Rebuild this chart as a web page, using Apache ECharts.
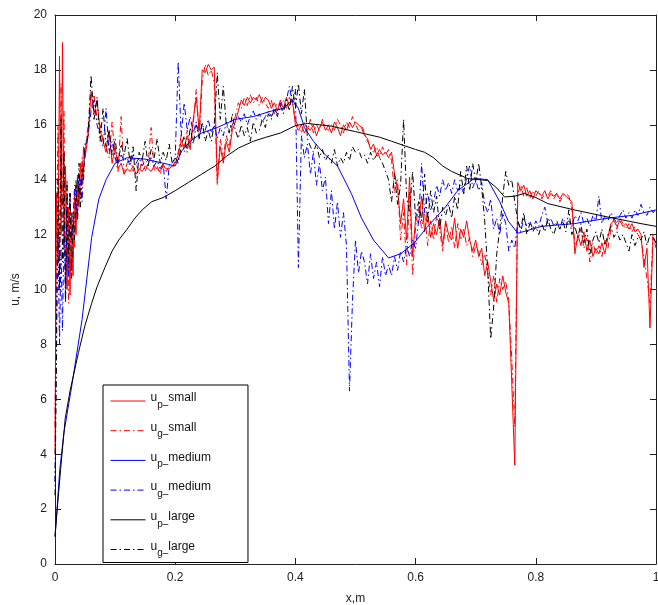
<!DOCTYPE html>
<html>
<head>
<meta charset="utf-8">
<script src="https://cdn.jsdelivr.net/npm/echarts@6/dist/echarts.min.js"></script>
<style>
  html, body { margin: 0; padding: 0; background: #fff; }
  #chart { width: 658px; height: 605px; }
</style>
</head>
<body>
<div id="chart"></div>
<script>
// sample positions shared by the noisy gas/particle traces
const xs = [
  0, 0.0025, 0.005, 0.0075, 0.01, 0.0125, 0.015, 0.0175, 0.02, 0.0225,
  0.025, 0.0275, 0.03, 0.0325, 0.035, 0.0375, 0.04, 0.0425, 0.045, 0.0475, 0.05,
  0.055, 0.06, 0.065, 0.07, 0.075, 0.08, 0.085, 0.09, 0.095, 0.1,
  0.105, 0.11, 0.115, 0.12, 0.125, 0.13, 0.135, 0.14, 0.145, 0.15,
  0.155, 0.16, 0.165, 0.17, 0.175, 0.18, 0.185, 0.19, 0.195, 0.2,
  0.205, 0.21, 0.215, 0.22, 0.225, 0.23, 0.235, 0.24, 0.245, 0.25,
  0.255, 0.26, 0.265, 0.27, 0.275, 0.28, 0.285, 0.29, 0.295, 0.3,
  0.305, 0.31, 0.315, 0.32, 0.325, 0.33, 0.335, 0.34, 0.345, 0.35,
  0.355, 0.36, 0.365, 0.37, 0.375, 0.38, 0.385, 0.39, 0.395, 0.4,
  0.405, 0.41, 0.415, 0.42, 0.425, 0.43, 0.435, 0.44, 0.445, 0.45,
  0.455, 0.46, 0.465, 0.47, 0.475, 0.48, 0.485, 0.49, 0.495, 0.5,
  0.505, 0.51, 0.515, 0.52, 0.525, 0.53, 0.535, 0.54, 0.545, 0.55,
  0.555, 0.56, 0.565, 0.57, 0.575, 0.58, 0.585, 0.59, 0.595, 0.6,
  0.605, 0.61, 0.615, 0.62, 0.625, 0.63, 0.635, 0.64, 0.645, 0.65,
  0.655, 0.66, 0.665, 0.67, 0.675, 0.68, 0.685, 0.69, 0.695, 0.7,
  0.705, 0.71, 0.715, 0.72, 0.725, 0.73, 0.735, 0.74, 0.745, 0.75,
  0.755, 0.76, 0.765, 0.77, 0.775, 0.78, 0.785, 0.79, 0.795, 0.8,
  0.805, 0.81, 0.815, 0.82, 0.825, 0.83, 0.835, 0.84, 0.845, 0.85,
  0.855, 0.86, 0.865, 0.87, 0.875, 0.88, 0.885, 0.89, 0.895, 0.9,
  0.905, 0.91, 0.915, 0.92, 0.925, 0.93, 0.935, 0.94, 0.945, 0.95,
  0.955, 0.96, 0.965, 0.97, 0.975, 0.98, 0.985, 0.99, 0.995, 1.0
];

const upSmall = [
  4.0, 13.5, 11.0, 18.5, 12.0, 19.0, 11.5, 14.5, 10.0, 13.0,
  9.8, 12.8, 10.5, 13.5, 12.0, 14.0, 13.0, 14.6, 13.8, 15.2, 14.8,
  15.6, 17.2, 16.4, 16.9, 15.8, 15.4, 15.0, 15.8, 14.6, 15.2,
  14.4, 14.6, 14.2, 14.4, 14.3, 14.5, 14.2, 14.4, 14.3, 14.5,
  14.4, 14.3, 14.5, 14.4, 14.3, 14.5, 14.4, 14.4, 14.5, 14.6,
  14.9, 15.4, 15.2, 15.6, 15.1, 16.2, 17.0, 15.8, 18.0, 17.9,
  18.2, 18.0, 18.1, 14.0, 15.2, 14.6, 15.4, 15.0, 15.8, 16.1,
  16.5, 16.9, 16.7, 17.0, 16.8, 17.0, 16.9, 17.1, 16.8, 17.0,
  16.9, 16.6, 16.8, 16.5, 16.9, 16.6, 17.0, 16.7, 16.9, 16.0,
  15.8, 16.0, 15.7, 15.9, 15.8, 16.0, 15.6, 15.9, 16.1, 15.8,
  16.0, 15.7, 16.1, 15.9, 15.6, 16.0, 15.8, 16.1, 15.9, 16.1,
  16.0, 15.9, 15.6, 15.5, 15.1, 15.3, 14.9, 15.1, 14.9, 15.0,
  14.8, 15.0, 14.2, 13.7, 12.4, 13.3, 11.8, 14.1, 11.2, 12.6,
  12.4, 13.4, 12.1, 12.8, 11.9, 12.4, 12.0, 12.6, 11.6, 12.5,
  12.0, 11.8, 12.6, 11.5, 12.2, 11.9, 12.5, 11.8, 11.4, 11.8,
  11.2, 11.5, 10.5, 11.0, 10.3, 9.6, 10.2, 9.8, 10.5, 9.9,
  9.5, 6.6, 3.6, 13.9, 13.6, 13.8, 13.4, 13.6, 13.3, 13.6,
  13.5, 13.4, 13.6, 13.3, 13.5, 13.4, 13.5, 13.3, 13.5, 13.4,
  13.3, 13.2, 11.3, 12.0, 11.6, 12.1, 11.4, 11.8, 11.2, 11.5,
  11.3, 11.7, 11.3, 11.9, 12.4, 12.5, 12.3, 12.5, 12.3, 12.4,
  12.2, 12.4, 12.1, 12.2, 12.0, 10.8, 11.5, 8.6, 11.9, 11.7
];

const ugSmall = [
  5.0, 12.0, 16.0, 10.5, 17.5, 13.0, 16.5, 10.2, 14.0, 9.5,
  13.5, 10.8, 12.5, 11.5, 13.8, 12.6, 14.2, 13.4, 14.8, 14.2, 15.0,
  16.0, 16.6, 17.1, 16.2, 16.0, 15.5, 15.2, 14.8, 16.1, 14.8,
  14.3, 16.3, 14.2, 14.6, 14.9, 14.3, 14.6, 14.2, 14.8, 14.3,
  14.6, 15.9, 14.3, 14.5, 14.2, 14.6, 14.3, 14.5, 14.4, 14.7,
  15.0, 15.6, 15.0, 15.8, 15.3, 16.0, 17.3, 15.5, 17.6, 18.2,
  17.8, 18.0, 17.5, 13.8, 15.5, 14.8, 15.6, 15.2, 16.0, 16.3,
  16.8, 16.6, 17.0, 16.7, 17.1, 16.8, 17.0, 16.7, 17.0, 16.8,
  16.6, 16.9, 16.4, 16.8, 16.7, 16.9, 16.6, 17.0, 16.8, 16.2,
  15.9, 15.7, 16.1, 15.8, 16.2, 15.7, 16.0, 15.8, 16.2, 15.9,
  15.8, 16.0, 15.8, 16.2, 16.0, 15.7, 16.1, 15.9, 16.3, 16.0,
  15.8, 16.0, 15.7, 15.4, 15.2, 15.0, 15.2, 14.8, 15.2, 14.9,
  15.1, 14.7, 13.5, 14.0, 11.8, 12.8, 10.9, 13.6, 10.5, 12.3,
  13.0, 12.2, 12.8, 11.6, 12.5, 11.8, 12.7, 12.2, 11.4, 12.4,
  11.7, 12.3, 11.5, 12.4, 11.8, 12.2, 11.6, 11.9, 11.2, 11.6,
  11.4, 10.9, 11.3, 10.6, 9.8, 10.5, 9.5, 10.4, 10.0, 10.3,
  9.6, 7.5, 5.0, 13.5, 13.8, 13.4, 13.7, 13.3, 13.6, 13.4,
  13.6, 13.3, 13.5, 13.4, 13.6, 13.3, 13.5, 13.2, 13.4, 13.5,
  13.4, 13.0, 11.6, 11.8, 12.2, 11.5, 11.9, 11.0, 11.7, 11.3,
  11.6, 11.2, 11.8, 11.5, 12.2, 12.6, 12.2, 12.6, 12.4, 12.2,
  12.4, 12.1, 12.3, 12.0, 11.8, 11.2, 10.4, 9.5, 12.0, 11.5
];

const ugMedium = [
  3.0, 9.0, 12.0, 8.0, 11.5, 8.5, 12.5, 9.5, 13.0, 10.5,
  13.5, 11.8, 12.5, 13.8, 12.8, 14.2, 13.5, 14.0, 13.2, 14.5, 15.0,
  15.6, 16.5, 16.9, 16.0, 15.6, 15.2, 16.6, 15.0, 15.4, 14.8,
  14.6, 14.9, 14.7, 14.8, 14.5, 14.9, 14.6, 14.8, 14.5, 14.7,
  14.6, 14.8, 14.5, 14.7, 14.4, 14.6, 13.3, 14.5, 14.6, 14.8,
  18.3, 15.6, 16.8, 15.8, 16.3, 15.7, 16.1, 15.6, 16.0, 15.8,
  16.2, 15.7, 16.0, 15.5, 15.9, 15.6, 16.1, 15.8, 16.0, 16.2,
  16.3, 16.1, 16.4, 16.0, 16.3, 16.5, 16.2, 16.4, 16.1, 16.3,
  16.5, 16.3, 16.6, 16.4, 16.8, 16.5, 16.9, 17.4, 16.8, 17.3,
  10.8, 15.6, 14.8, 15.3, 14.2, 15.0, 13.8, 14.6, 13.6, 14.1,
  12.4, 13.6, 12.2, 13.2, 11.9, 12.8, 11.6, 6.3, 9.6, 11.8,
  10.6, 11.4, 11.0, 10.2, 11.3, 10.4, 11.0, 10.1, 11.2, 10.5,
  10.9, 10.5, 11.2, 10.7, 11.4, 11.0, 11.6, 11.2, 11.8, 11.5,
  12.5, 14.6, 12.8, 13.5, 12.9, 13.2, 13.8, 13.4, 14.0, 13.6,
  13.9, 13.5, 14.0, 13.6, 13.8, 13.5, 14.1, 14.5, 13.7, 14.0,
  13.6, 13.9, 13.1, 12.8, 13.3, 12.2, 12.6, 12.0, 12.8, 12.4,
  11.4, 11.8, 11.5, 12.5, 12.1, 12.6, 12.3, 12.5, 12.2, 12.5,
  12.3, 12.7, 13.0, 12.4, 12.6, 12.3, 12.5, 12.2, 12.6, 12.4,
  12.5, 12.3, 12.7, 12.5, 12.8, 12.4, 12.6, 12.3, 12.7, 12.5,
  13.4, 12.4, 12.7, 12.5, 12.8, 12.6, 12.4, 12.7, 12.9, 12.6,
  12.8, 12.6, 12.9, 12.7, 13.1, 12.8, 12.7, 13.0, 12.8, 12.9
];

const ugLarge = [
  2.5, 7.5, 14.0, 10.0, 16.2, 11.0, 15.0, 9.6, 13.8, 11.0,
  13.5, 10.4, 12.8, 11.8, 14.0, 12.5, 14.6, 13.0, 14.4, 14.0, 15.3,
  15.6, 17.8, 16.2, 17.0, 15.4, 16.6, 15.2, 15.8, 14.9, 15.5,
  14.6, 15.3, 14.9, 15.5, 14.6, 15.2, 13.6, 15.0, 14.7, 15.4,
  14.5, 15.1, 14.8, 15.5, 14.6, 15.0, 14.7, 15.3, 14.6, 14.8,
  14.6, 15.2, 15.6, 15.0, 15.9, 15.3, 16.0, 15.5, 16.1, 15.4,
  15.8, 15.4, 16.0, 17.9, 16.2, 17.4, 16.0, 15.7, 16.4, 15.8,
  15.5, 16.0, 15.6, 15.9, 15.4, 16.1, 15.7, 15.8, 16.2, 15.9,
  16.4, 16.2, 16.6, 16.3, 16.7, 16.4, 16.9, 16.5, 17.4, 16.6,
  17.5, 16.4, 17.3, 15.5, 15.2, 15.0, 15.3, 14.8, 15.1, 14.7,
  14.9, 14.6, 15.1, 14.5, 14.8, 14.6, 15.0, 14.7, 15.2, 15.0,
  15.1, 14.8, 14.9, 14.6, 15.0, 14.7, 14.9, 14.8, 14.6, 14.3,
  14.0, 13.2, 14.2, 13.1, 13.8, 16.2, 13.4, 12.8, 14.3, 12.6,
  13.2, 12.5, 14.2, 12.4, 13.6, 12.8, 13.4, 12.2, 13.0, 12.7,
  13.1, 12.6, 13.4, 12.9, 14.3, 13.5, 14.5, 13.6, 14.6, 13.9,
  14.6, 13.7, 12.5, 10.7, 8.2, 9.4, 11.3, 12.2, 13.4, 14.3,
  13.8, 14.0, 13.2, 12.5, 12.2, 12.8, 12.0, 12.4, 12.1, 12.3,
  12.0, 12.4, 12.1, 12.6, 12.2, 12.0, 12.4, 12.2, 12.5, 12.1,
  12.9, 12.0, 12.3, 11.9, 12.4, 11.7, 12.2, 11.3, 11.8, 12.1,
  11.7, 12.2, 11.6, 12.0, 12.3, 11.9, 12.1, 11.8, 12.0, 11.7,
  11.4, 12.0, 11.6, 11.9, 11.8, 12.1, 11.6, 12.0, 11.9, 11.7
];

// smooth particle curves, own sample points
const upMediumX = [0, 0.004, 0.008, 0.015, 0.028, 0.045, 0.061, 0.073, 0.085, 0.1,
  0.12, 0.15, 0.18, 0.2, 0.211, 0.225, 0.244, 0.27, 0.3, 0.33,
  0.36, 0.38, 0.395, 0.405, 0.415, 0.43, 0.45, 0.47, 0.493, 0.51,
  0.53, 0.555, 0.575, 0.598, 0.62, 0.648, 0.67, 0.698, 0.72, 0.74,
  0.754, 0.77, 0.81, 0.864, 0.92, 0.96, 1.0];
const upMedium = [1.0, 2.2, 3.45, 4.8, 6.5, 8.9, 11.9, 13.3, 14.0, 14.6,
  14.8, 14.75, 14.6, 14.5, 15.05, 15.4, 15.7, 15.9, 16.2, 16.3,
  16.5, 16.6, 16.9, 16.6, 15.9, 15.4, 14.9, 14.5, 13.5, 12.6,
  11.8, 11.15, 11.3, 11.7, 12.3, 12.96, 13.6, 14.05, 14.0, 13.2,
  12.5, 12.05, 12.3, 12.4, 12.6, 12.7, 12.9];

const upLargeX = [0, 0.003, 0.006, 0.01, 0.017, 0.025, 0.039, 0.05, 0.061, 0.07,
  0.083, 0.095, 0.106, 0.12, 0.133, 0.145, 0.161, 0.18, 0.2, 0.222,
  0.244, 0.266, 0.285, 0.305, 0.33, 0.35, 0.375, 0.4, 0.42, 0.44,
  0.46, 0.5, 0.54, 0.56, 0.6, 0.615, 0.63, 0.645, 0.66, 0.687,
  0.72, 0.735, 0.748, 0.765, 0.781, 0.8, 0.82, 0.864, 0.92, 0.975, 1.0];
const upLarge = [1.0, 1.8, 2.6, 3.6, 5.3, 6.3, 7.7, 8.7, 9.5, 10.1,
  10.8, 11.4, 11.8, 12.2, 12.6, 12.9, 13.2, 13.35, 13.6, 13.9,
  14.2, 14.5, 14.85, 15.15, 15.4, 15.54, 15.7, 15.97, 16.05, 16.0,
  15.95, 15.75, 15.55, 15.4, 15.1, 15.0, 14.8, 14.5, 14.3, 14.04,
  13.97, 13.7, 13.37, 13.4, 13.5, 13.35, 13.13, 12.9, 12.64, 12.4, 12.3];

const seriesNames = ['up_small', 'ug_small', 'up_medium', 'ug_medium', 'up_large', 'ug_large'];
const xTicks = ['0', '0.2', '0.4', '0.6', '0.8', '1'];

const DASHDOT = [6, 3, 1.5, 3];

function pairs(x, y) {
  return y.map((v, i) => [x[i], v]);
}

function mkSeries(name, x, y, color, dashed) {
  return {
    name: name,
    type: 'line',
    data: pairs(x, y),
    symbol: 'none',
    showSymbol: false,
    animation: false,
    lineStyle: { color: color, width: 1, type: dashed ? DASHDOT : 'solid' },
    itemStyle: { color: color },
    emphasis: { disabled: true }
  };
}

const legendText = {
  up_small: '{n|u}{s|p–}{n|small}',
  ug_small: '{n|u}{s|g–}{n|small}',
  up_medium: '{n|u}{s|p–}{n|medium}',
  ug_medium: '{n|u}{s|g–}{n|medium}',
  up_large: '{n|u}{s|p–}{n|large}',
  ug_large: '{n|u}{s|g–}{n|large}'
};

const font = 'Liberation Sans, Arial, Helvetica, sans-serif';
const chart = echarts.init(document.getElementById('chart'));

chart.setOption({
  backgroundColor: '#fff',
  animation: false,
  textStyle: { fontFamily: font },
  grid: { left: 55, right: 2, top: 15, bottom: 41, outerBoundsMode: 'none', containLabel: false },
  legend: {
    orient: 'vertical',
    left: 103,
    top: 385,
    data: seriesNames,
    backgroundColor: '#fff',
    borderColor: '#000',
    borderWidth: 1,
    borderRadius: 0,
    padding: [7, 37, 4, 7],
    itemWidth: 35,
    itemHeight: 14,
    itemGap: 11.7,
    selectedMode: false,
    itemStyle: { color: 'rgba(0,0,0,0)', borderColor: 'rgba(0,0,0,0)', borderWidth: 0 },
    lineStyle: { width: 1 },
    formatter: name => legendText[name],
    textStyle: {
      color: '#111',
      rich: {
        n: { fontSize: 12, fontFamily: font, color: '#111', padding: [0, 0, 6, 0] },
        s: { fontSize: 10, fontFamily: font, color: '#111', padding: [8, 0, 0, 0] }
      }
    }
  },
  xAxis: [{
    type: 'value',
    min: 0, max: 1, interval: 0.2,
    name: 'x,m',
    nameLocation: 'middle',
    nameGap: 29,
    nameTextStyle: { fontSize: 12, color: '#222', fontFamily: font },
    axisLine: { onZero: false, lineStyle: { color: '#222', width: 1 } },
    axisTick: { inside: true, length: 6, lineStyle: { color: '#222' } },
    axisLabel: { fontSize: 12, color: '#222', margin: 8,
      formatter: v => xTicks[Math.round(v / 0.2)] },
    splitLine: { show: false }
  }, {
    type: 'value', position: 'top',
    min: 0, max: 1, interval: 0.2,
    axisLine: { onZero: false, lineStyle: { color: '#222', width: 1 } },
    axisTick: { inside: true, length: 6, lineStyle: { color: '#222' } },
    axisLabel: { show: false },
    splitLine: { show: false }
  }],
  yAxis: [{
    type: 'value',
    min: 0, max: 20, interval: 2,
    name: 'u, m/s',
    nameLocation: 'middle',
    nameGap: 33,
    nameRotate: 90,
    nameTextStyle: { fontSize: 12, color: '#222', fontFamily: font },
    axisLine: { show: true, onZero: false, lineStyle: { color: '#222', width: 1 } },
    axisTick: { show: true, inside: true, length: 6, lineStyle: { color: '#222' } },
    axisLabel: { fontSize: 12, color: '#222', margin: 8 },
    splitLine: { show: false }
  }, {
    type: 'value', position: 'right',
    min: 0, max: 20, interval: 2,
    axisLine: { show: true, onZero: false, lineStyle: { color: '#222', width: 1 } },
    axisTick: { show: true, inside: true, length: 6, lineStyle: { color: '#222' } },
    axisLabel: { show: false },
    splitLine: { show: false }
  }],
  series: [
    mkSeries('up_small', xs, upSmall, '#ff0000', false),
    mkSeries('ug_small', xs, ugSmall, '#ff0000', true),
    mkSeries('up_medium', upMediumX, upMedium, '#0000ff', false),
    mkSeries('ug_medium', xs, ugMedium, '#0000ff', true),
    mkSeries('up_large', upLargeX, upLarge, '#000000', false),
    mkSeries('ug_large', xs, ugLarge, '#000000', true)
  ]
});
</script>
</body>
</html>
